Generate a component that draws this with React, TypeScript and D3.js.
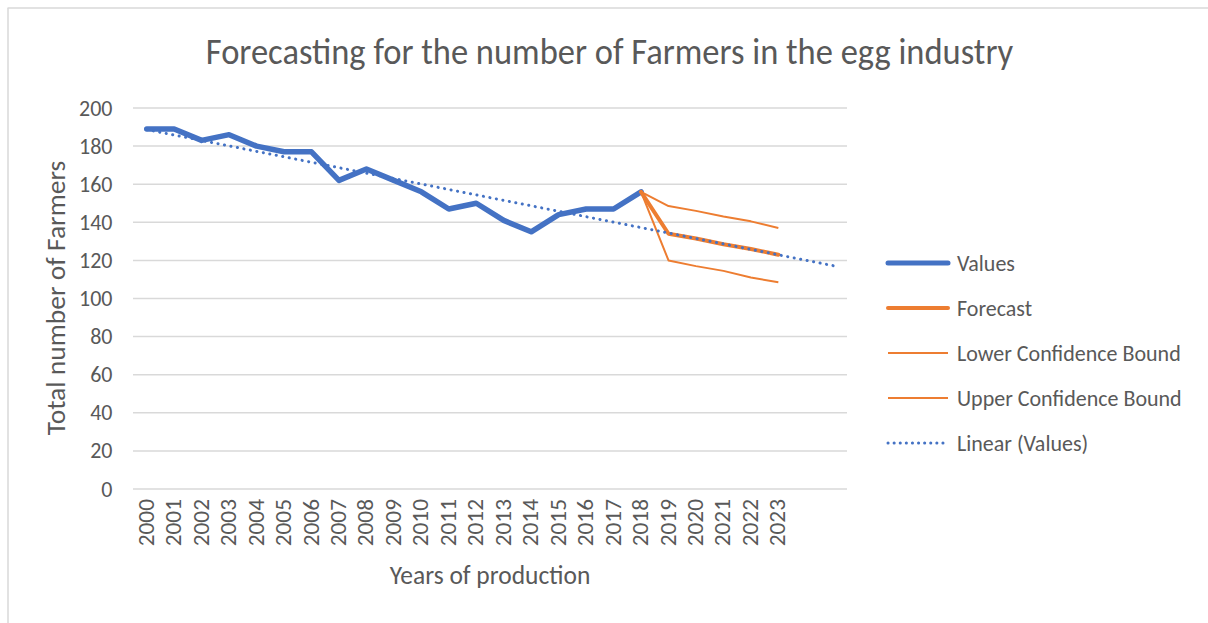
import React from "react";
import * as d3 from "d3";

const years: string[] = ["2000","2001","2002","2003","2004","2005","2006","2007","2008","2009","2010","2011","2012","2013","2014","2015","2016","2017","2018","2019","2020","2021","2022","2023","",""];
const values: number[] = [189,189,183,186,180,177,177,162,168,162,156,147,150,141,135,144,147,147,156];
const forecast: { i: number; v: number }[] = [
  { i: 18, v: 156 }, { i: 19, v: 134 }, { i: 20, v: 131.5 }, { i: 21, v: 128.5 }, { i: 22, v: 126 }, { i: 23, v: 123 },
];
const lowerBound: { i: number; v: number }[] = [
  { i: 18, v: 156 }, { i: 19, v: 120 }, { i: 20, v: 117 }, { i: 21, v: 114.5 }, { i: 22, v: 111 }, { i: 23, v: 108.5 },
];
const upperBound: { i: number; v: number }[] = [
  { i: 18, v: 156 }, { i: 19, v: 148.5 }, { i: 20, v: 146 }, { i: 21, v: 143 }, { i: 22, v: 140.5 }, { i: 23, v: 137 },
];
const yTicks: number[] = [0,20,40,60,80,100,120,140,160,180,200];
const legendItems = [
  { label: "Values", color: "#4472C4", width: 5, dash: "" },
  { label: "Forecast", color: "#ED7D31", width: 4, dash: "" },
  { label: "Lower Confidence Bound", color: "#ED7D31", width: 2, dash: "" },
  { label: "Upper Confidence Bound", color: "#ED7D31", width: 2, dash: "" },
  { label: "Linear (Values)", color: "#4472C4", width: 3, dash: "0.1 6" },
];

const FONT = "Carlito, Lato, sans-serif";
const TXT = "#595959";
const SY = 1.06;

export default function App() {
  const W = 1208, H = 623;
  const x = d3.scaleBand<number>().domain(d3.range(years.length)).range([133, 847]);
  const cx = (i: number) => (x(i) as number) + x.bandwidth() / 2;
  const y = d3.scaleLinear().domain([0, 200]).range([489, 108]);

  const pts = values.map((v, i) => ({ i, v }));
  const line = d3.line<{ i: number; v: number }>().x(d => cx(d.i)).y(d => y(d.v));

  // linear trendline (least squares on Values), extended forward
  const mx = d3.mean(pts, d => d.i) as number;
  const my = d3.mean(pts, d => d.v) as number;
  const sxy = d3.sum(pts, d => (d.i - mx) * (d.v - my));
  const sxx = d3.sum(pts, d => (d.i - mx) * (d.i - mx));
  const slope = sxy / sxx;
  const icpt = my - slope * mx;
  const trend = [{ i: 0, v: icpt }, { i: years.length - 1, v: icpt + slope * (years.length - 1) }];

  const legY0 = 263, legDy = 45;

  return (
    <svg width={W} height={H} style={{ position: "absolute", left: 0, top: 0, background: "#fff" }} fontFamily={FONT}>
      <rect x={0} y={0} width={W} height={H} fill="#fff" />
      <line x1={7.5} y1={8} x2={W} y2={8} stroke="#D9D9D9" strokeWidth={1.5} />
      <line x1={8} y1={8} x2={8} y2={H} stroke="#D9D9D9" strokeWidth={1.5} />

      <text transform={`translate(609.5,63.5) scale(1,${SY})`} textAnchor="middle" fontSize={34.5} fill={TXT}>
        Forecasting for the number of Farmers in the egg industry
      </text>

      {yTicks.map(t => (
        <g key={t}>
          <line x1={133} x2={847} y1={y(t)} y2={y(t)} stroke="#D9D9D9" strokeWidth={1.5} />
          <text transform={`translate(112.5,${y(t) + 7.5}) scale(1,${SY})`} textAnchor="end" fontSize={22} fill={TXT}>{t}</text>
        </g>
      ))}

      {years.map((yr, i) => yr ? (
        <text key={i} transform={`translate(${cx(i) + 7},499) scale(1,${SY}) rotate(-90)`} textAnchor="end" fontSize={22} fill={TXT}>{yr}</text>
      ) : null)}

      <text transform={`translate(65,298) scale(1,${SY}) rotate(-90)`} textAnchor="middle" fontSize={26} fill={TXT}>Total number of Farmers</text>
      <text transform={`translate(490,584) scale(1,${SY})`} textAnchor="middle" fontSize={25.5} fill={TXT}>Years of production</text>

      <path d={line(pts) as string} fill="none" stroke="#4472C4" strokeWidth={5.5} strokeLinejoin="round" strokeLinecap="round" />
      <path d={line(forecast) as string} fill="none" stroke="#ED7D31" strokeWidth={4} strokeLinejoin="round" strokeLinecap="round" />
      <path d={line(lowerBound) as string} fill="none" stroke="#ED7D31" strokeWidth={2} strokeLinejoin="round" />
      <path d={line(upperBound) as string} fill="none" stroke="#ED7D31" strokeWidth={2} strokeLinejoin="round" />
      <path d={line(trend) as string} fill="none" stroke="#4472C4" strokeWidth={3} strokeDasharray="0.1 6.5" strokeLinecap="round" />

      {legendItems.map((it, k) => {
        const ly = legY0 + k * legDy;
        return (
          <g key={it.label}>
            <line x1={888} x2={948} y1={ly} y2={ly} stroke={it.color} strokeWidth={it.width}
              strokeLinecap={it.width >= 4 || it.dash ? "round" : "butt"} strokeDasharray={it.dash || undefined} />
            <text transform={`translate(957,${ly + 7.5}) scale(1,${SY})`} fontSize={22} fill={TXT}>{it.label}</text>
          </g>
        );
      })}
    </svg>
  );
}
